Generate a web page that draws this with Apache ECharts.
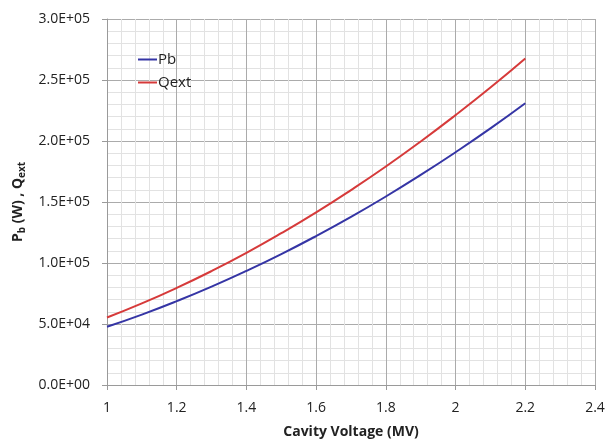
<!DOCTYPE html>
<html>
<head>
<meta charset="utf-8">
<script src="https://cdn.jsdelivr.net/npm/echarts@6/dist/echarts.min.js"></script>
<style>
  html, body { margin: 0; padding: 0; background: #fff; }
  #chart { width: 608px; height: 443px; }
</style>
</head>
<body>
<div id="chart"></div>
<script>
// Cavity voltage (MV)
const voltage = [1.0, 1.1, 1.2, 1.3, 1.4, 1.5, 1.6, 1.7, 1.8, 1.9, 2.0, 2.1, 2.2];
// Beam power Pb (W)
const pb = [47700, 57700, 68700, 80600, 93500, 107300, 122100, 137800, 154500, 172200, 190800, 210300, 230900];
// External Q
const qext = [55300, 66900, 79600, 93400, 108300, 124400, 141500, 159800, 179100, 199600, 221200, 243800, 267600];

const seriesNames = ['Pb', 'Qext'];
const xTicks = { min: 1, max: 2.4, step: 0.2 };
const yTicks = { min: 0, max: 300000, step: 50000 };

const font = '"Open Sans", "Noto Sans", sans-serif';

function sci(v) {
  const [m, e] = v.toExponential(1).split('e');
  const sign = e[0] === '-' ? '-' : '+';
  const digits = e.replace(/[+-]/, '').padStart(2, '0');
  return m + 'E' + sign + digits;
}

const chart = echarts.init(document.getElementById('chart'), null, { renderer: 'canvas' });
chart.setOption({
  animation: false,
  backgroundColor: '#ffffff',
  grid: { left: 107, right: 13, top: 19, bottom: 58, containLabel: false, outerBoundsMode: 'none' },
  legend: {
    left: 133, top: 47, orient: 'vertical', itemGap: 8,
    itemWidth: 19, itemHeight: 2, icon: 'rect',
    textStyle: { fontFamily: font, fontSize: 15, color: '#222', padding: [0, 0, 0, -4] },
    data: seriesNames
  },
  xAxis: {
    type: 'value', min: xTicks.min, max: xTicks.max, interval: xTicks.step,
    name: 'Cavity Voltage (MV)', nameLocation: 'middle', nameGap: 40,
    nameTextStyle: { fontFamily: font, fontSize: 14, fontWeight: 'bold', color: '#222' },
    axisLine: { show: true, lineStyle: { color: '#9a9a9a', width: 1 } },
    axisTick: { show: true, length: 5, lineStyle: { color: '#9a9a9a' } },
    axisLabel: { fontFamily: font, fontSize: 14, color: '#222', margin: 16,
      formatter: v => String(Math.round(v * 10) / 10) },
    splitLine: { show: true, lineStyle: { color: '#ababab', width: 1 } },
    minorTick: { show: false, splitNumber: 5 },
    minorSplitLine: { show: true, lineStyle: { color: '#e2e2e2', width: 1 } }
  },
  yAxis: {
    type: 'value', min: yTicks.min, max: yTicks.max, interval: yTicks.step,
    name: '{n|P}{s|b}{n| (W) , Q}{s|ext}', nameLocation: 'middle', nameGap: 80, nameRotate: 90,
    nameTextStyle: {
      rich: {
        n: { fontFamily: font, fontSize: 14, fontWeight: 'bold', color: '#222' },
        s: { fontFamily: font, fontSize: 10, fontWeight: 'bold', color: '#222', padding: [7, 0, 0, 0] }
      }
    },
    axisLine: { show: true, lineStyle: { color: '#9a9a9a', width: 1 } },
    axisTick: { show: true, length: 5, lineStyle: { color: '#9a9a9a' } },
    axisLabel: { fontFamily: font, fontSize: 14, color: '#222', margin: 17, formatter: sci },
    splitLine: { show: true, lineStyle: { color: '#ababab', width: 1 } },
    minorTick: { show: false, splitNumber: 5 },
    minorSplitLine: { show: true, lineStyle: { color: '#e2e2e2', width: 1 } }
  },
  series: [
    {
      name: seriesNames[0], type: 'line', smooth: true, showSymbol: false,
      color: '#3535a5', lineStyle: { width: 2, color: '#3535a5' },
      data: voltage.map((v, i) => [v, pb[i]])
    },
    {
      name: seriesNames[1], type: 'line', smooth: true, showSymbol: false,
      color: '#d63a3a', lineStyle: { width: 2, color: '#d63a3a' },
      data: voltage.map((v, i) => [v, qext[i]])
    }
  ]
});
</script>
</body>
</html>
